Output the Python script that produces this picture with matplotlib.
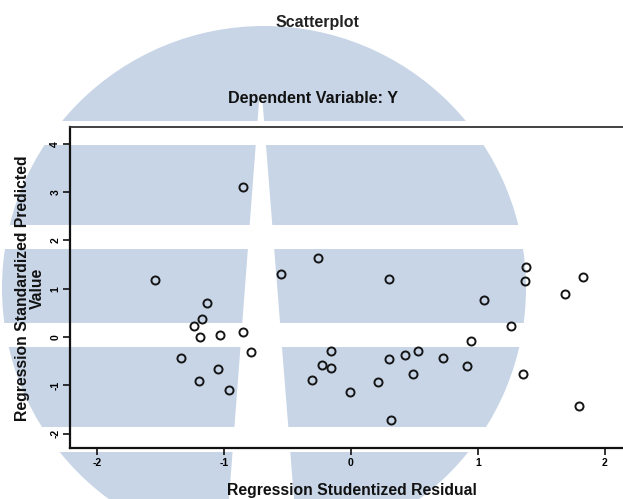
import matplotlib
matplotlib.use("Agg")
import matplotlib.pyplot as plt
from matplotlib.patches import Circle, Rectangle, Polygon

plt.rcParams['font.family'] = ['Liberation Sans', 'DejaVu Sans']

# Data
resid = [-0.852, -1.543, -1.136, -0.552, -0.26, 0.30, 1.378, 1.372, 1.046, 1.83,
         1.69, -1.172, -1.236, -1.19, -1.03, -0.854, -0.79, -1.338, -1.046, -1.199,
         -0.96, -0.31, 1.262, 0.946, -0.155, -0.226, -0.155, -0.008, 0.21, 0.30,
         0.426, 0.489, 0.526, 0.723, 0.918, 1.36, 0.315, 1.80]
pred = [3.11, 1.18, 0.70, 1.31, 1.63, 1.20, 1.44, 1.15, 0.77, 1.25,
        0.89, 0.37, 0.23, 0.01, 0.05, 0.10, -0.32, -0.43, -0.67, -0.92,
        -1.10, -0.90, 0.23, -0.08, -0.28, -0.58, -0.65, -1.13, -0.94, -0.46,
        -0.37, -0.77, -0.28, -0.44, -0.60, -0.77, -1.71, -1.43]
xticks = [-2, -1, 0, 1, 2]
yticks = [-2, -1, 0, 1, 2, 3, 4]

W, H = 623, 499
fig = plt.figure(figsize=(W / 100, H / 100), dpi=100)

# Background watermark layer in image pixel coordinates
bg = fig.add_axes([0, 0, 1, 1], zorder=0)
bg.set_xlim(0, W)
bg.set_ylim(H, 0)
bg.axis('off')
wm = '#c7d5e7'
bg.add_patch(Circle((264, 288), 262, facecolor=wm, edgecolor='none'))
for y0, y1 in [(121, 145), (225, 249), (323, 347), (427, 452)]:
    bg.add_patch(Rectangle((0, y0), W, y1 - y0, facecolor='white', edgecolor='none'))
bg.add_patch(Polygon([(259.5, 95), (262, 95), (294, 499), (229, 499)],
                     closed=True, facecolor='white', edgecolor='none'))

# Main axes
left_px, right_px, top_px, bot_px = 70, 630, 127, 448
ax = fig.add_axes([left_px / W, (H - bot_px) / H, (right_px - left_px) / W,
                   (bot_px - top_px) / H], zorder=1)
ax.patch.set_alpha(0)

x0, sx = 351, 126.8
y0, sy = 337, 48.3
ax.set_xlim((left_px - x0) / sx, (right_px - x0) / sx)
ax.set_ylim((y0 - bot_px) / sy, (y0 - top_px) / sy)

ax.plot(resid, pred, linestyle='none', marker='o', markersize=5.8,
        markerfacecolor='none', markeredgecolor='#151515', markeredgewidth=1.4)

ax.set_xticks(xticks)
ax.set_yticks(yticks)
ax.set_xticklabels([str(v) for v in xticks], fontsize=7.5, fontweight='bold')
ax.set_yticklabels([str(v) for v in yticks], fontsize=7.5, fontweight='bold',
                   rotation=90, va='center')
ax.tick_params(direction='out', length=5, width=1.2, color='#111111', pad=2)

for s in ['left', 'bottom']:
    ax.spines[s].set_linewidth(1.6)
    ax.spines[s].set_color('#111111')
ax.spines['top'].set_linewidth(1.3)
ax.spines['top'].set_color('#333333')
ax.spines['right'].set_visible(False)

fig.text(352 / W, 1 - 490 / H, 'Regression Studentized Residual', ha='center',
         va='center', fontsize=11.3, fontweight='bold', color='#111111')
fig.text(30 / W, 1 - 288 / H, 'Regression Standardized Predicted\nValue',
         rotation=90, ha='center', va='center', fontsize=11.3, fontweight='bold',
         multialignment='center', linespacing=0.95, color='#111111')

fig.text(317 / W, 1 - 22 / H, 'Scatterplot', ha='center', va='center',
         fontsize=11.5, fontweight='bold', color='#222222')
fig.text(313 / W, 1 - 98 / H, 'Dependent Variable: Y', ha='center', va='center',
         fontsize=11.6, fontweight='bold', color='#111111')

fig.savefig('out.png', dpi=100)
